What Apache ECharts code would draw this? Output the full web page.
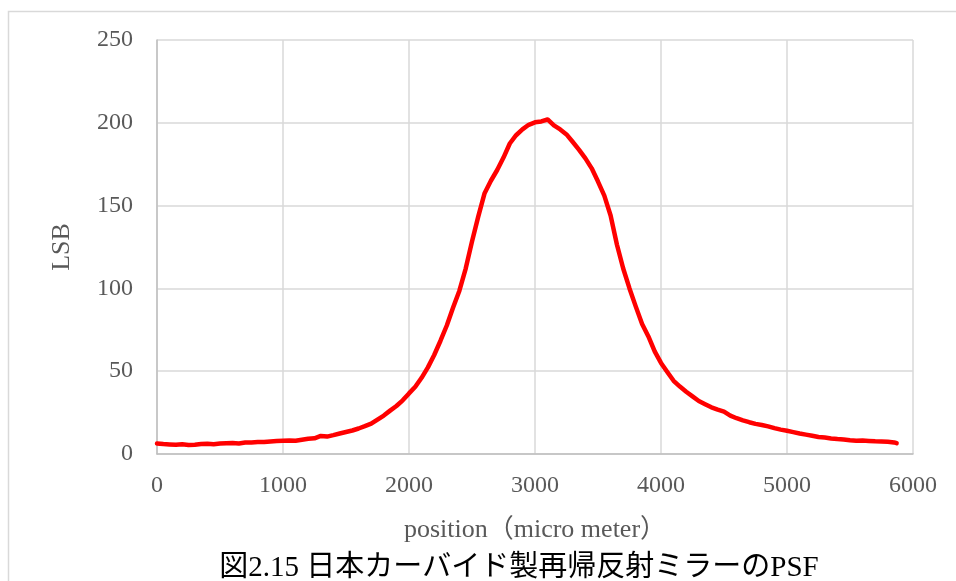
<!DOCTYPE html>
<html>
<head>
<meta charset="utf-8">
<script src="https://cdn.jsdelivr.net/npm/echarts@6/dist/echarts.min.js"></script>
<style>
  html, body { margin: 0; padding: 0; background: #fff; }
  #chart { width: 956px; height: 581px; }
</style>
</head>
<body>
<div id="chart"></div>
<script>
// Measured PSF profile: position in micrometres, signal in LSB
const positions = [
  0, 50, 100, 150, 200, 250, 300, 350, 400, 450,
  500, 550, 600, 650, 700, 750, 800, 850, 900, 950,
  1000, 1050, 1100, 1150, 1200, 1250, 1300, 1350, 1400, 1450,
  1500, 1550, 1600, 1650, 1700, 1750, 1800, 1850, 1900, 1950,
  2000, 2050, 2100, 2150, 2200, 2250, 2300, 2350, 2400, 2450,
  2500, 2550, 2600, 2650, 2700, 2750, 2800, 2850, 2900, 2950,
  3000, 3050, 3100, 3150, 3200, 3250, 3300, 3350, 3400, 3450,
  3500, 3550, 3600, 3650, 3700, 3750, 3800, 3850, 3900, 3950,
  4000, 4050, 4100, 4150, 4200, 4250, 4300, 4350, 4400, 4450,
  4500, 4550, 4600, 4650, 4700, 4750, 4800, 4850, 4900, 4950,
  5000, 5050, 5100, 5150, 5200, 5250, 5300, 5350, 5400, 5450,
  5500, 5550, 5600, 5650, 5700, 5750, 5800, 5850, 5870
];
const lsb = [
  6.4, 6.0, 5.8, 5.6, 5.9, 5.5, 5.6, 6.0, 6.2, 5.9,
  6.3, 6.5, 6.6, 6.4, 6.9, 7.0, 7.2, 7.3, 7.6, 7.8,
  8.0, 8.1, 8.0, 8.6, 9.2, 9.5, 10.9, 10.5, 11.4, 12.4,
  13.3, 14.2, 15.4, 16.8, 18.3, 20.8, 23.2, 26.2, 29.0, 32.4,
  36.6, 40.6, 46.0, 52.3, 59.8, 68.4, 77.6, 88.4, 98.6, 112.0,
  128.3, 143.5, 157.5, 165.0, 171.5, 179.0, 187.5, 192.5, 196.0, 198.8,
  200.3, 200.8, 202.0, 198.4, 196.0, 193.0, 188.4, 183.6, 178.5, 172.5,
  164.5, 156.0, 144.0, 126.5, 112.0, 100.0, 89.0, 78.5, 71.0, 62.0,
  55.0, 49.5, 44.2, 40.7, 37.6, 34.8, 32.0, 30.1, 28.2, 26.8,
  25.6, 23.2, 21.6, 20.3, 19.2, 18.2, 17.5, 16.7, 15.6, 14.7,
  14.0, 13.2, 12.4, 11.7, 11.0, 10.3, 9.9, 9.4, 9.0, 8.7,
  8.3, 8.0, 8.1, 7.9, 7.7, 7.6, 7.4, 7.0, 6.5
];
const xTicks = { min: 0, max: 6000, step: 1000 };
const yTicks = { min: 0, max: 250, step: 50 };
const xTitle = 'position（micro meter）';
const yTitle = 'LSB';
const caption = '図2.15 日本カーバイド製再帰反射ミラーのPSF';

const serif = '"Liberation Serif", "DejaVu Serif", "Noto Sans CJK JP", serif';
const tickColor = '#595959';

const chart = echarts.init(document.getElementById('chart'), null, { renderer: 'canvas' });
chart.setOption({
  animation: false,
  backgroundColor: '#ffffff',
  grid: { left: 157, right: 43, top: 40, bottom: 127, containLabel: false },
  xAxis: {
    type: 'value',
    min: xTicks.min, max: xTicks.max, interval: xTicks.step,
    name: xTitle,
    nameLocation: 'middle',
    nameGap: 63,
    nameTextStyle: { fontFamily: serif, fontSize: 26, color: tickColor },
    axisLine: { show: true, lineStyle: { color: '#bfbfbf', width: 1.5 } },
    axisTick: { show: false },
    axisLabel: {
      fontFamily: serif, fontSize: 24, color: tickColor, margin: 20,
      formatter: v => String(v)
    },
    splitLine: { show: true, lineStyle: { color: '#d9d9d9', width: 1.5 } }
  },
  yAxis: {
    type: 'value',
    min: yTicks.min, max: yTicks.max, interval: yTicks.step,
    name: yTitle,
    nameLocation: 'middle',
    nameGap: 82,
    nameTextStyle: { fontFamily: serif, fontSize: 26, color: tickColor },
    axisLine: { show: true, lineStyle: { color: '#bfbfbf', width: 1.5 } },
    axisTick: { show: false },
    axisLabel: {
      fontFamily: serif, fontSize: 24, color: tickColor, margin: 24,
      formatter: v => String(v)
    },
    splitLine: { show: true, lineStyle: { color: '#d9d9d9', width: 1.5 } }
  },
  series: [{
    type: 'line',
    data: positions.map((p, i) => [p, lsb[i]]),
    showSymbol: false,
    smooth: false,
    lineStyle: { color: '#ff0000', width: 4.5, join: 'round', cap: 'round' },
    itemStyle: { color: '#ff0000' }
  }],
  graphic: [
    {
      type: 'rect',
      silent: true,
      shape: { x: 8.5, y: 11.5, width: 1000, height: 1000 },
      style: { fill: 'none', stroke: '#d9d9d9', lineWidth: 1.5 },
      z: -1
    },
    {
      type: 'text',
      silent: true,
      x: 519, y: 568,
      style: {
        text: caption,
        fontFamily: serif,
        fontSize: 29,
        fill: '#000000',
        align: 'center',
        verticalAlign: 'middle'
      }
    }
  ]
});
</script>
</body>
</html>
